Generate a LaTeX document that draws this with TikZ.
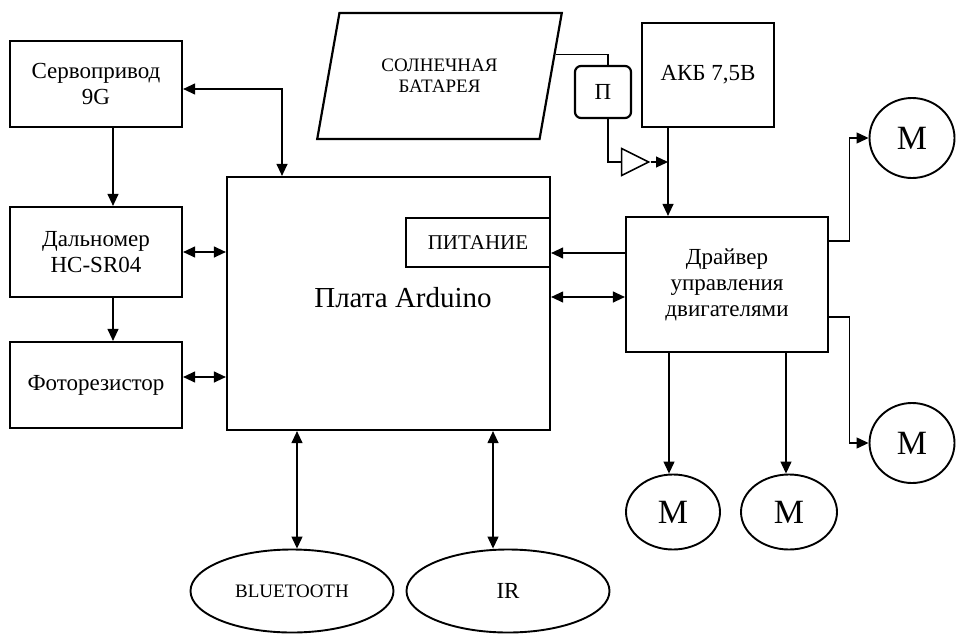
\documentclass[tikz,border=0pt]{standalone}
\usepackage{fontspec}
\setmainfont{Liberation Serif}
\usetikzlibrary{shapes.geometric, arrows.meta, positioning, calc}

\begin{document}
\begin{tikzpicture}[x=1pt, y=-1pt, line width=1.2pt, >={Triangle[length=12pt,width=11pt]},
  blk/.style={draw, line width=2.2pt, align=center, inner sep=0pt, font=\fontsize{23}{26}\selectfont},
  mot/.style={draw, ellipse, line width=1.9pt, inner sep=0pt, font=\fontsize{34}{34}\selectfont},
  oval/.style={draw, ellipse, line width=1.9pt, minimum width=203pt, minimum height=83pt, font=\fontsize{19}{21}\selectfont}]
\useasboundingbox (0,0) rectangle (957,634);

\node[blk, minimum width=172pt, minimum height=86pt] (servo) at (96,84) {Сервопривод\\9G};
\node[blk, minimum width=172pt, minimum height=90pt] (daln) at (96,252) {Дальномер\\HC-SR04};
\node[blk, minimum width=172pt, minimum height=86pt] (foto) at (96,385) {Фоторезистор};
\node[blk, minimum width=323pt, minimum height=253pt] (ard) at (388.5,303.5) {};
\node[font=\fontsize{29}{32}\selectfont] (ardtxt) at (403,298) {Плата Arduino};
\node[blk, minimum width=144pt, minimum height=49pt, font=\fontsize{21}{23}\selectfont] (pit) at (478,242.5) {ПИТАНИЕ};
\node[blk, trapezium, trapezium left angle=69, trapezium right angle=111, trapezium stretches,
  minimum width=245pt, minimum height=126pt, font=\fontsize{19}{21}\selectfont] (sun) at (439.5,76) {СОЛНЕЧНАЯ\\БАТАРЕЯ};
\node[blk, rounded corners=6pt, minimum width=56pt, minimum height=52pt] (pp) at (603,92) {П};
\node[draw, isosceles triangle, isosceles triangle stretches, minimum height=27pt, minimum width=27pt,
  inner sep=0pt, line width=1.5pt] (amp) at (630,162) {};
\node[blk, minimum width=132pt, minimum height=104pt] (akb) at (708,75) {АКБ 7,5В};
\node[blk, minimum width=202pt, minimum height=135pt] (drv) at (727,284.5) {Драйвер\\управления\\двигателями};
\node[mot, minimum width=85pt, minimum height=80pt] (m1) at (912,138) {М};
\node[mot, minimum width=85pt, minimum height=80pt] (m2) at (912,443) {М};
\node[mot, minimum width=94pt, minimum height=75pt] (m3) at (673,512) {М};
\node[mot, minimum width=96pt, minimum height=75pt] (m4) at (789,512) {М};
\node[oval] (bt) at (292,591) {BLUETOOTH};
\node[oval, font=\fontsize{23}{25}\selectfont] (ir) at (508,591) {IR};
\coordinate (jn) at (668,162);

\draw[->] ([xshift=17pt]servo.south) -- ([xshift=17pt]daln.north);
\draw[->] ([xshift=17pt]daln.south) -- ([xshift=17pt]foto.north);
\draw[<->] (servo.east |- 0,89) -| ([xshift=-106.5pt]ard.north);
\draw[<->] (daln.east) -- (daln.east -| ard.west);
\draw[<->] (foto.east |- 0,377) -- (ard.west |- 0,377);
\draw[<->] (ard.south -| 297,0) -- (bt.north -| 297,0);
\draw[<->] (ard.south -| 493,0) -- (ir.north -| 493,0);

\draw ($(sun.bottom right corner)!0.67!(sun.top right corner)$) -| ([xshift=5pt]pp.north);
\draw ([xshift=5pt]pp.south) |- (amp.west);
\draw[->] (amp.east) -- (jn);
\draw[->] (akb.south -| jn) -- (drv.north -| jn);
\draw[->] (drv.west |- 0,253) -- (pit.east |- 0,253);
\draw[<->] (ard.east |- 0,297) -- (drv.west |- 0,297);
\draw[->] (drv.east |- 0,241) -- ++(20,0) |- (m1.west);
\draw[->] (drv.east |- 0,317) -- ++(20,0) |- (m2.west);
\draw[->] (drv.south -| 669,0) -- (m3.north -| 669,0);
\draw[->] (drv.south -| 786,0) -- (m4.north -| 786,0);
\end{tikzpicture}
\end{document}
